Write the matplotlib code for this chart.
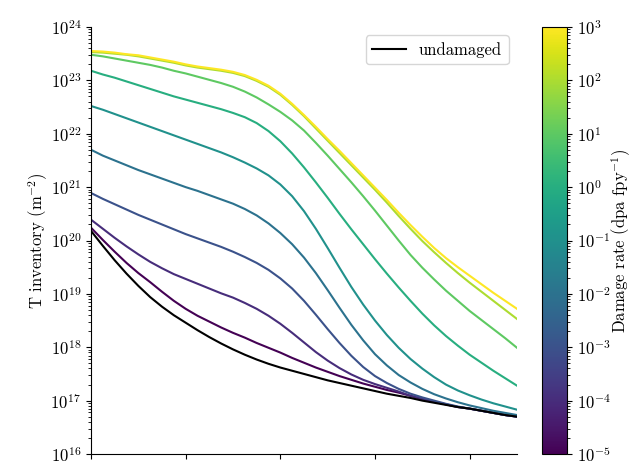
import numpy as np
import matplotlib
matplotlib.use("Agg")
import matplotlib.pyplot as plt
from matplotlib.colors import LogNorm
from matplotlib.cm import ScalarMappable

plt.rcParams["font.family"] = "serif"
plt.rcParams["font.serif"] = ["cmr10"]
plt.rcParams["mathtext.fontset"] = "cm"
plt.rcParams["axes.formatter.use_mathtext"] = True
plt.rcParams["font.size"] = 12

# temperature grid (K)
temperature = list(range(400, 1325, 25))

# damage rates (dpa/fpy); each series is log10 of the T inventory (m^-2)
damage_rates = [1e-5, 1e-4, 1e-3, 1e-2, 1e-1, 1e0, 1e1, 1e2, 1e3]

log_inv_1em5 = [20.24, 20.01, 19.79, 19.58, 19.39, 19.22, 19.04, 18.87, 18.72, 18.59,
                18.48, 18.37, 18.27, 18.18, 18.08, 17.99, 17.90, 17.80, 17.71, 17.62,
                17.54, 17.46, 17.39, 17.32, 17.26, 17.20, 17.15, 17.09, 17.03, 16.98,
                16.93, 16.88, 16.85, 16.81, 16.77, 16.73, 16.70]
log_inv_1em4 = [20.39, 20.22, 20.05, 19.89, 19.74, 19.60, 19.48, 19.37, 19.28, 19.19,
                19.10, 19.01, 18.93, 18.83, 18.72, 18.59, 18.44, 18.27, 18.09, 17.91,
                17.75, 17.61, 17.49, 17.39, 17.31, 17.24, 17.17, 17.09, 17.03, 16.98,
                16.93, 16.88, 16.85, 16.81, 16.77, 16.73, 16.70]
log_inv_1em3 = [20.89, 20.78, 20.68, 20.58, 20.48, 20.39, 20.30, 20.21, 20.12, 20.04,
                19.96, 19.88, 19.79, 19.69, 19.58, 19.45, 19.29, 19.10, 18.87, 18.61,
                18.34, 18.08, 17.84, 17.63, 17.46, 17.33, 17.22, 17.13, 17.06, 17.00,
                16.94, 16.89, 16.85, 16.81, 16.77, 16.73, 16.70]
log_inv_1em2 = [21.70, 21.59, 21.50, 21.41, 21.32, 21.24, 21.16, 21.08, 21.00, 20.93,
                20.85, 20.77, 20.69, 20.59, 20.47, 20.32, 20.14, 19.93, 19.68, 19.39,
                19.07, 18.74, 18.42, 18.13, 17.87, 17.66, 17.48, 17.34, 17.22, 17.12,
                17.04, 16.97, 16.91, 16.86, 16.81, 16.77, 16.73]
log_inv_1em1 = [22.52, 22.45, 22.37, 22.29, 22.21, 22.13, 22.05, 21.97, 21.89, 21.81,
                21.73, 21.65, 21.56, 21.46, 21.35, 21.22, 21.05, 20.83, 20.55, 20.22,
                19.86, 19.49, 19.13, 18.80, 18.50, 18.23, 17.99, 17.78, 17.60, 17.44,
                17.30, 17.19, 17.10, 17.02, 16.95, 16.89, 16.83]
log_inv_1e0 = [23.18, 23.11, 23.05, 22.98, 22.91, 22.84, 22.77, 22.70, 22.64, 22.58,
               22.52, 22.46, 22.39, 22.31, 22.20, 22.05, 21.86, 21.63, 21.37, 21.09,
               20.80, 20.50, 20.21, 19.93, 19.65, 19.38, 19.12, 18.87, 18.63, 18.41,
               18.21, 18.03, 17.86, 17.71, 17.56, 17.42, 17.28]
log_inv_1e1 = [23.48, 23.45, 23.41, 23.37, 23.33, 23.29, 23.24, 23.18, 23.13, 23.07,
               23.01, 22.95, 22.88, 22.79, 22.68, 22.55, 22.41, 22.25, 22.06, 21.83,
               21.59, 21.34, 21.09, 20.83, 20.56, 20.28, 20.00, 19.73, 19.49, 19.27,
               19.06, 18.87, 18.68, 18.51, 18.34, 18.17, 17.99]
log_inv_1e2 = [23.53, 23.52, 23.50, 23.48, 23.45, 23.41, 23.37, 23.33, 23.28, 23.24,
               23.21, 23.18, 23.14, 23.08, 22.99, 22.88, 22.73, 22.54, 22.33, 22.10,
               21.87, 21.64, 21.41, 21.18, 20.95, 20.71, 20.46, 20.22, 19.99, 19.78,
               19.58, 19.39, 19.21, 19.04, 18.87, 18.70, 18.53]
log_inv_1e3 = [23.55, 23.54, 23.52, 23.49, 23.47, 23.43, 23.39, 23.35, 23.30, 23.26,
               23.23, 23.20, 23.16, 23.10, 23.01, 22.90, 22.75, 22.56, 22.35, 22.13,
               21.90, 21.68, 21.45, 21.22, 20.99, 20.76, 20.52, 20.29, 20.07, 19.86,
               19.67, 19.50, 19.34, 19.18, 19.02, 18.87, 18.72]

log_inv_undamaged = [20.18, 19.90, 19.63, 19.38, 19.15, 18.94, 18.76, 18.60, 18.46, 18.32,
                     18.19, 18.07, 17.96, 17.86, 17.77, 17.69, 17.62, 17.56, 17.50, 17.44,
                     17.38, 17.33, 17.28, 17.23, 17.18, 17.13, 17.09, 17.05, 17.00, 16.96,
                     16.92, 16.88, 16.85, 16.81, 16.77, 16.73, 16.70]

damaged = [log_inv_1em5, log_inv_1em4, log_inv_1em3, log_inv_1em2, log_inv_1em1,
           log_inv_1e0, log_inv_1e1, log_inv_1e2, log_inv_1e3]

fig = plt.figure(figsize=(6.36, 4.61), dpi=100)
ax = fig.add_axes([91 / 636, 7 / 461, 426 / 636, 427 / 461])
cax = fig.add_axes([542 / 636, 7 / 461, 25 / 636, 427 / 461])

cmap = plt.get_cmap("viridis")
norm = LogNorm(vmin=1e-5, vmax=1e3)

for rate, logN in zip(damage_rates, damaged):
    ax.plot(temperature, 10.0 ** np.array(logN), color=cmap(norm(rate)), lw=1.5)

ax.plot(temperature, 10.0 ** np.array(log_inv_undamaged), color="black", lw=1.5,
        label="undamaged")

ax.set_yscale("log")
ax.set_xlim(400, 1300)
ax.set_ylim(1e16, 1e24)
ax.set_xticks([400, 600, 800, 1000, 1200])
ax.set_ylabel("T inventory (m$^{-2}$)", labelpad=0)
ax.spines["top"].set_visible(False)
ax.spines["right"].set_visible(False)
ax.legend(loc="upper right")

sm = ScalarMappable(norm=norm, cmap=cmap)
cb = fig.colorbar(sm, cax=cax)
cb.set_label("Damage rate (dpa fpy$^{-1}$)", labelpad=-1)

fig.savefig("out.png", dpi=100)
